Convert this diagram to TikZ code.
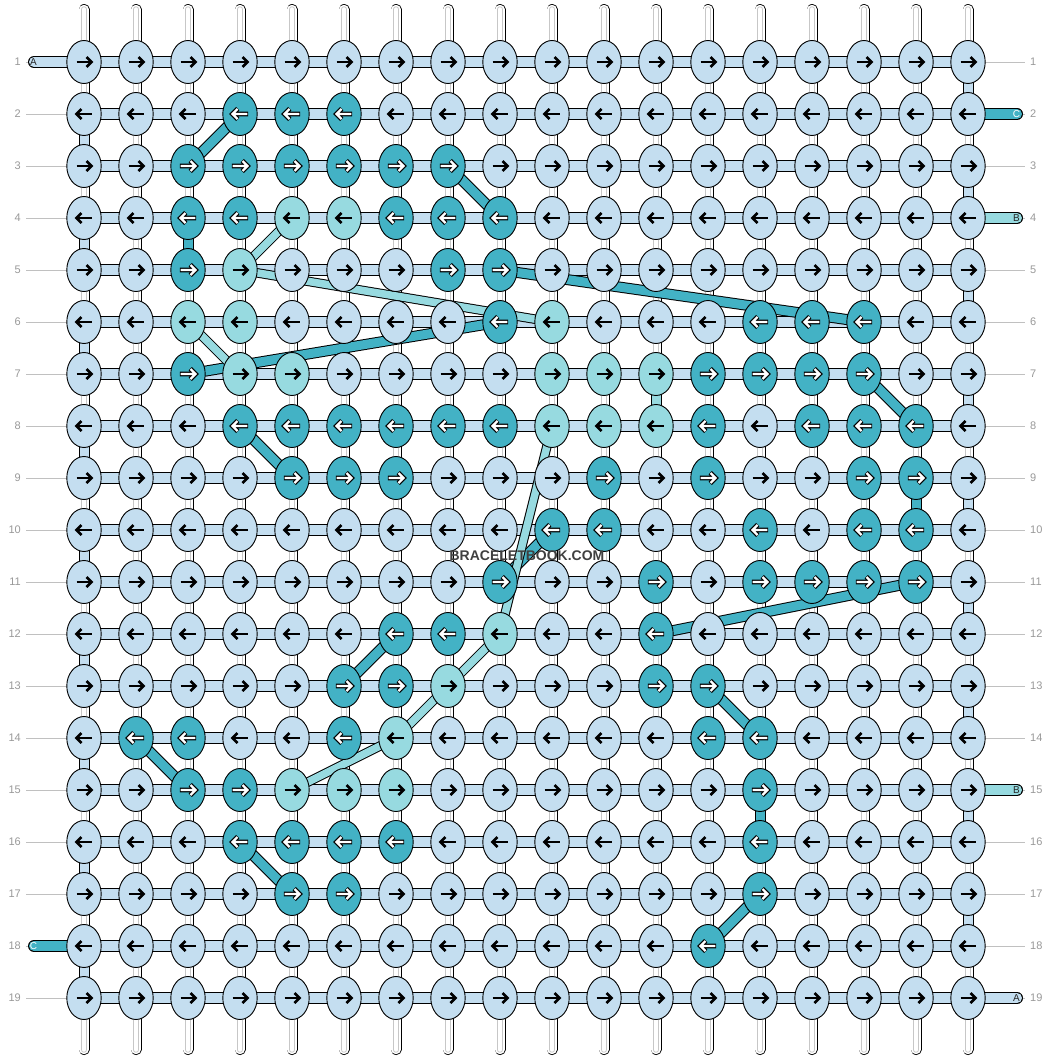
\documentclass[tikz,border=0pt]{standalone}
\usepackage{fontspec}
\setmainfont{Liberation Sans}
\usetikzlibrary{shapes.geometric}

\definecolor{bb_base}{RGB}{196,222,240}
\definecolor{bb_dark}{RGB}{67,178,197}
\definecolor{bb_light}{RGB}{151,218,224}
\definecolor{bb_grey}{RGB}{153,153,153}
\definecolor{bb_rule}{RGB}{192,192,192}

\pgfdeclarelayer{tubes}
\pgfdeclarelayer{bands}
\pgfdeclarelayer{threads}
\pgfdeclarelayer{marks}
\pgfsetlayers{tubes,bands,threads,main,marks}

\begin{document}
\begin{tikzpicture}[x=1pt, y=-1pt,
    knot/.style={ellipse, draw=black, line width=0.9pt, fill=#1,
                 minimum width=34.4pt, minimum height=43pt, inner sep=0pt},
    tube/.style={white, line width=4.6pt, line cap=round,
                 preaction={draw, black, line width=11pt, line cap=round},
                 preaction={draw, white, line width=9.4pt, line cap=round},
                 preaction={draw, black!22, line width=6.4pt, line cap=round}},
    band/.style={#1, line width=10pt,
                 preaction={draw, black, line width=12pt}},
    turn/.style={#1, line width=9pt,
                 preaction={draw, black, line width=11pt}},
    strand/.style={#1, line width=10pt, line cap=round,
                   preaction={draw, black, line width=12pt, line cap=round}},
    thread/.style={#1, line width=9pt,
                   preaction={draw, black, line width=11pt}},
    thin thread/.style={#1, line width=7.5pt,
                        preaction={draw, black, line width=9.5pt}},
    rule/.style={bb_rule, line width=1pt},
    lbl/.style={text=bb_grey, font=\fontsize{11}{11}\selectfont, inner sep=0pt},
    tag/.style={font=\fontsize{10}{10}\selectfont, inner sep=0pt},
    black arrow/.pic={
      \draw[line width=2.6pt] (-7.5,0) -- (7,0);
      \draw[line width=2.6pt, line join=miter] (2.5,-5) -- (7.5,0) -- (2.5,5);},
    white arrow/.pic={
      \draw[line width=4.6pt, line join=miter] (-8.2,0) -- (7,0) (2.2,-5.4) -- (7.6,0) -- (2.2,5.4);
      \draw[line width=2.4pt, white, line join=miter] (-7.3,0) -- (6.8,0) (2.5,-5) -- (7.5,0) -- (2.5,5);},
  ]
  \useasboundingbox (0,0) rectangle (1052,1060);
  \begin{pgfonlayer}{tubes}
    \fill[white] (0,0) rectangle (1052,1060);
  \end{pgfonlayer}

  % knots, one row after the other (0 base, 1 dark, 2 light)
  \foreach \pat [count=\r] in {%
{0,0,0,0,0,0,0,0,0,0,0,0,0,0,0,0,0,0},%
{0,0,0,1,1,1,0,0,0,0,0,0,0,0,0,0,0,0},%
{0,0,1,1,1,1,1,1,0,0,0,0,0,0,0,0,0,0},%
{0,0,1,1,2,2,1,1,1,0,0,0,0,0,0,0,0,0},%
{0,0,1,2,0,0,0,1,1,0,0,0,0,0,0,0,0,0},%
{0,0,2,2,0,0,0,0,1,2,0,0,0,1,1,1,0,0},%
{0,0,1,2,2,0,0,0,0,2,2,2,1,1,1,1,0,0},%
{0,0,0,1,1,1,1,1,1,2,2,2,1,0,1,1,1,0},%
{0,0,0,0,1,1,1,0,0,0,1,0,1,0,0,1,1,0},%
{0,0,0,0,0,0,0,0,0,1,1,0,0,1,0,1,1,0},%
{0,0,0,0,0,0,0,0,1,0,0,1,0,1,1,1,1,0},%
{0,0,0,0,0,0,1,1,2,0,0,1,0,0,0,0,0,0},%
{0,0,0,0,0,1,1,2,0,0,0,1,1,0,0,0,0,0},%
{0,1,1,0,0,1,2,0,0,0,0,0,1,1,0,0,0,0},%
{0,0,1,1,2,2,2,0,0,0,0,0,0,1,0,0,0,0},%
{0,0,0,1,1,1,1,0,0,0,0,0,0,1,0,0,0,0},%
{0,0,0,0,1,1,0,0,0,0,0,0,0,1,0,0,0,0},%
{0,0,0,0,0,0,0,0,0,0,0,0,1,0,0,0,0,0},%
{0,0,0,0,0,0,0,0,0,0,0,0,0,0,0,0,0,0}%
  }{
    \ifodd\r \def\dir{1}\else \def\dir{-1}\fi
    \foreach \k [count=\c] in \pat {
      \ifcase\k \def\kc{bb_base}\or \def\kc{bb_dark}\or \def\kc{bb_light}\fi
      \node[knot=\kc] (k-\r-\c) at ({84+52*(\c-1)}, {62+52*(\r-1)}) {};
      \ifnum\k=1
        \pic[xscale=\dir] at (k-\r-\c.center) {white arrow};
      \else
        \pic[xscale=\dir] at (k-\r-\c.center) {black arrow};
      \fi
    }
  }

  % vertical strings and row rules
  \begin{pgfonlayer}{tubes}
    \foreach \c in {1,...,18} {
      \coordinate (top-\c) at ({84+52*(\c-1)}, 9.5);
      \coordinate (bot-\c) at ({84+52*(\c-1)}, 1049.5);
      \draw[tube] (top-\c) -- (bot-\c);
    }
    \foreach \r in {1,...,19} {
      \coordinate (rl-\r) at (26, {62+52*(\r-1)});
      \coordinate (rr-\r) at (1025, {62+52*(\r-1)});
      \draw[rule] (rl-\r) -- (k-\r-1.center);
      \draw[rule] (k-\r-18.center) -- (rr-\r);
    }
  \end{pgfonlayer}

  % rows, turns at the edges, loose ends
  \begin{pgfonlayer}{bands}
    \foreach \r in {1,...,19}
      \draw[band=bb_base] (k-\r-1.center) -- (k-\r-18.center);
    \foreach \r [evaluate=\r as \s using int(\r+1)] in {2,4,...,18}
      \draw[turn=bb_base] (k-\r-1.center) -- (k-\s-1.center);
    \foreach \r [evaluate=\r as \s using int(\r+1)] in {1,3,...,17}
      \draw[turn=bb_base] (k-\r-18.center) -- (k-\s-18.center);
    \draw[turn=bb_dark]  (k-4-3.center) -- (k-5-3.center);
    \draw[turn=bb_light] (k-7-12.center) -- (k-8-12.center);
    \draw[turn=bb_dark]  (k-9-17.center) -- (k-10-17.center);
    \draw[turn=bb_dark]  (k-15-14.center) -- (k-16-14.center);

    \coordinate (inA)   at (34, 62);
    \coordinate (inC)   at (34, 946);
    \coordinate (outC)  at (1017, 114);
    \coordinate (outB1) at (1017, 218);
    \coordinate (outB2) at (1017, 790);
    \coordinate (outA)  at (1017, 998);
    \draw[strand=bb_base]  (inA) -- (k-1-1.center);
    \draw[strand=bb_dark]  (inC) -- (k-18-1.center);
    \draw[strand=bb_dark]  (k-2-18.center) -- (outC);
    \draw[strand=bb_light] (k-4-18.center) -- (outB1);
    \draw[strand=bb_light] (k-15-18.center) -- (outB2);
    \draw[strand=bb_base]  (k-19-18.center) -- (outA);
  \end{pgfonlayer}

  % threads carried behind the knots
  \begin{pgfonlayer}{threads}
    \foreach \a/\b in {3-3/2-4, 3-8/4-9, 5-9/6-16, 7-3/6-9, 8-4/9-5, 7-16/8-17,
                       10-10/11-9, 11-17/12-12, 12-7/13-6, 14-2/15-3, 16-4/17-5,
                       13-13/14-14, 18-13/17-14}
      \draw[thread=bb_dark] (k-\a.center) -- (k-\b.center);
    \foreach \a/\b in {5-4/4-5, 5-4/6-10, 6-3/7-4, 8-10/12-9, 12-9/13-8,
                       13-8/14-7, 14-7/15-5}
      \draw[thin thread=bb_light] (k-\a.center) -- (k-\b.center);
  \end{pgfonlayer}

  \begin{pgfonlayer}{marks}
    \node[tag, text=black!85] (tA1) at (33.5, 62)    {A};
    \node[tag, text=white]    (tC1) at (33.5, 946)   {C};
    \node[tag, text=white]    (tC2) at (1016.5, 114) {C};
    \node[tag, text=black!85] (tB1) at (1016.5, 218) {B};
    \node[tag, text=black!85] (tB2) at (1016.5, 790) {B};
    \node[tag, text=black!85] (tA2) at (1016.5, 998) {A};
    \foreach \r in {1,...,19} {
      \node[lbl, anchor=east] (ll-\r) at (21, {62+52*(\r-1)}) {\r};
      \node[lbl, anchor=west] (lr-\r) at (1030, {62+52*(\r-1)}) {\r};
    }
    \node[font=\bfseries\fontsize{14}{14}\selectfont, text=black!75] (wm) at (527, 556) {BRACELETBOOK.COM};
  \end{pgfonlayer}
\end{tikzpicture}
\end{document}
